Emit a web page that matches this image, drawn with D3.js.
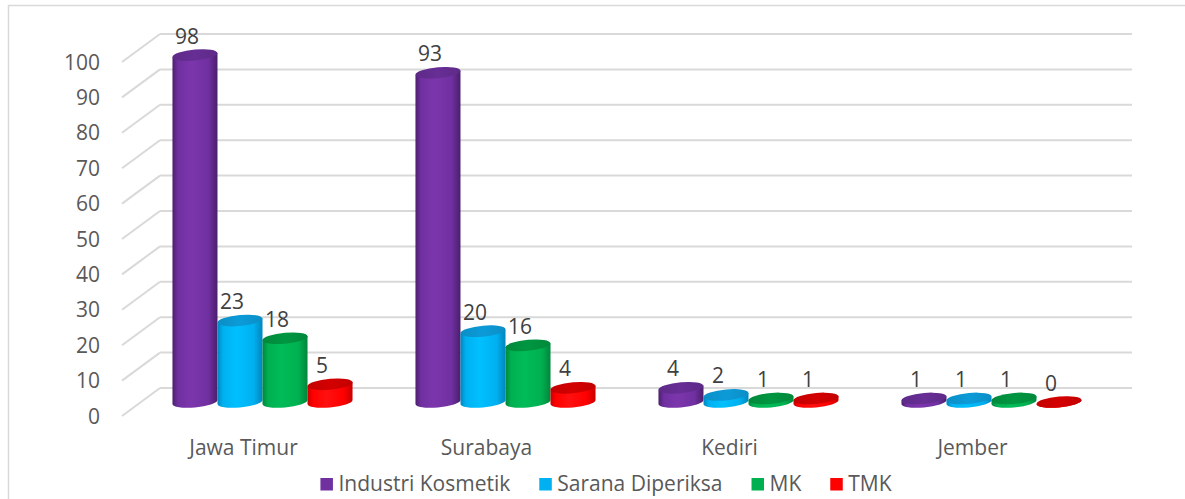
<!DOCTYPE html>
<html>
<head>
<meta charset="utf-8">
<script src="https://cdn.jsdelivr.net/npm/d3@7"></script>
<style>
  html, body { margin: 0; padding: 0; background: #ffffff; }
  svg { display: block; }
  text { font-family: "Open Sans", "Noto Sans", sans-serif; }
</style>
</head>
<body>
<svg id="chart" width="1185" height="499"></svg>
<script>
// ---- data ----
const categories = ["Jawa Timur", "Surabaya", "Kediri", "Jember"];
const seriesNames = ["Industri Kosmetik", "Sarana Diperiksa", "MK", "TMK"];
const industriKosmetik = [98, 93, 4, 1];
const saranaDiperiksa = [23, 20, 2, 1];
const mk = [18, 16, 1, 1];
const tmk = [5, 4, 1, 0];
const yTicks = [0, 10, 20, 30, 40, 50, 60, 70, 80, 90, 100];

const seriesValues = [industriKosmetik, saranaDiperiksa, mk, tmk];

// ---- styles ----
const palette = [
  { key: "ik",  base: "#7030A0", dark: "#4a1f6c", light: "#7c36ad", top: "#5e2a88" },
  { key: "sd",  base: "#00B0F0", dark: "#0086bd", light: "#00c0ff", top: "#0b8ec6" },
  { key: "mk",  base: "#00B050", dark: "#00863b", light: "#00bc58", top: "#00893b" },
  { key: "tmk", base: "#FF0000", dark: "#c80000", light: "#ff1010", top: "#c20000" }
];

const svg = d3.select("#chart");

// outer frame
svg.append("rect")
  .attr("x", 8.5).attr("y", 5.5)
  .attr("width", 1300).attr("height", 600)
  .attr("fill", "none").attr("stroke", "#d9d9d9").attr("stroke-width", 1.5);

// ---- geometry ----
const wallLeft = 160, wallRight = 1132;
const depthX = -38, depthY = 28;
const midX = depthX / 2, midY = depthY / 2;

const y = d3.scaleLinear().domain([0, 100]).range([388, 34]);

const x0 = d3.scaleBand()
  .domain(categories)
  .range([wallLeft, wallRight])
  .paddingInner(0.259)
  .paddingOuter(0.1295);

const x1 = d3.scaleBand()
  .domain(seriesNames)
  .range([0, x0.bandwidth()])
  .padding(0);

// ---- gradients ----
const defs = svg.append("defs");
palette.forEach(p => {
  const g = defs.append("linearGradient")
    .attr("id", "grad-" + p.key)
    .attr("x1", "0%").attr("x2", "100%").attr("y1", "0%").attr("y2", "0%");
  g.append("stop").attr("offset", "0%").attr("stop-color", p.dark);
  g.append("stop").attr("offset", "12%").attr("stop-color", p.base);
  g.append("stop").attr("offset", "42%").attr("stop-color", p.light);
  g.append("stop").attr("offset", "80%").attr("stop-color", p.base);
  g.append("stop").attr("offset", "100%").attr("stop-color", p.dark);
  const t = defs.append("linearGradient")
    .attr("id", "top-" + p.key)
    .attr("x1", "0%").attr("x2", "100%").attr("y1", "0%").attr("y2", "0%");
  t.append("stop").attr("offset", "0%").attr("stop-color", p.top);
  t.append("stop").attr("offset", "50%").attr("stop-color", d3.color(p.top).brighter(0.25));
  t.append("stop").attr("offset", "100%").attr("stop-color", p.top);
});

// ---- gridlines (back wall + side wall) ----
const grid = svg.append("g").attr("class", "grid");
grid.selectAll("line.back")
  .data(yTicks)
  .join("line")
  .attr("class", "back")
  .attr("x1", wallLeft).attr("x2", wallRight)
  .attr("y1", d => y(d)).attr("y2", d => y(d))
  .attr("stroke", "#d9d9d9").attr("stroke-width", 2);
grid.selectAll("line.side")
  .data(yTicks)
  .join("line")
  .attr("class", "side")
  .attr("x1", wallLeft + depthX).attr("y1", d => y(d) + depthY)
  .attr("x2", wallLeft).attr("y2", d => y(d))
  .attr("stroke", "#d9d9d9").attr("stroke-width", 2);

// ---- y axis labels ----
svg.append("g").selectAll("text")
  .data(yTicks)
  .join("text")
  .attr("x", 100)
  .attr("y", d => y(d) + depthY)
  .attr("dy", "0.36em")
  .attr("text-anchor", "end")
  .attr("font-size", 21)
  .attr("fill", "#595959")
  .text(d => d);

// ---- category labels ----
svg.append("g").selectAll("text")
  .data(categories)
  .join("text")
  .attr("x", d => x0(d) + x0.bandwidth() / 2 + depthX)
  .attr("y", 447)
  .attr("dy", "0.36em")
  .attr("text-anchor", "middle")
  .attr("font-size", 21)
  .attr("fill", "#595959")
  .text(d => d);

// ---- cylinders ----
const ry = 5.5;
const bars = [];
categories.forEach((c, ci) => {
  seriesNames.forEach((s, si) => {
    bars.push({ cat: c, ser: s, si, value: seriesValues[si][ci] });
  });
});

const barG = svg.append("g").attr("class", "bars");
bars.forEach(b => {
  const w = x1.bandwidth();
  const rx = w / 2;
  const cx = x0(b.cat) + x1(b.ser) + rx + midX;
  const yTop = y(b.value) + midY;
  const yBot = y(0) + midY;
  const p = palette[b.si];
  const g = barG.append("g")
    .attr("transform", `translate(${cx},${yBot}) skewY(-5) translate(${-cx},${-yBot})`);
  g.append("path")
    .attr("d", `M${cx - rx},${yTop} L${cx - rx},${yBot} A${rx},${ry} 0 0 0 ${cx + rx},${yBot} L${cx + rx},${yTop} Z`)
    .attr("fill", `url(#grad-${p.key})`);
  g.append("ellipse")
    .attr("cx", cx).attr("cy", yTop)
    .attr("rx", rx).attr("ry", ry)
    .attr("fill", `url(#top-${p.key})`);
  b.cx = cx; b.yTop = yTop;
});

// ---- data labels ----
svg.append("g").selectAll("text")
  .data(bars)
  .join("text")
  .attr("x", d => d.cx - 8)
  .attr("y", d => d.yTop - 19)
  .attr("dy", "0.36em")
  .attr("text-anchor", "middle")
  .attr("font-size", 21)
  .attr("fill", "#404040")
  .text(d => d.value);

// ---- legend ----
const legend = svg.append("g").attr("class", "legend");
const items = legend.selectAll("g")
  .data(seriesNames)
  .join("g");
items.append("rect")
  .attr("width", 12.5).attr("height", 12.5)
  .attr("y", -6)
  .attr("fill", (d, i) => palette[i].base);
items.append("text")
  .attr("x", 18)
  .attr("y", 0)
  .attr("dy", "0.33em")
  .attr("font-size", 21)
  .attr("fill", "#595959")
  .text(d => d);
const gap = 29;
let offset = 0;
const offsets = [];
items.each(function () {
  offsets.push(offset);
  const tw = d3.select(this).select("text").node().getComputedTextLength();
  offset += 18 + tw + gap;
});
const totalW = offset - gap;
const startX = 606 - totalW / 2;
items.attr("transform", (d, i) => `translate(${startX + offsets[i]},484)`);
</script>
</body>
</html>
